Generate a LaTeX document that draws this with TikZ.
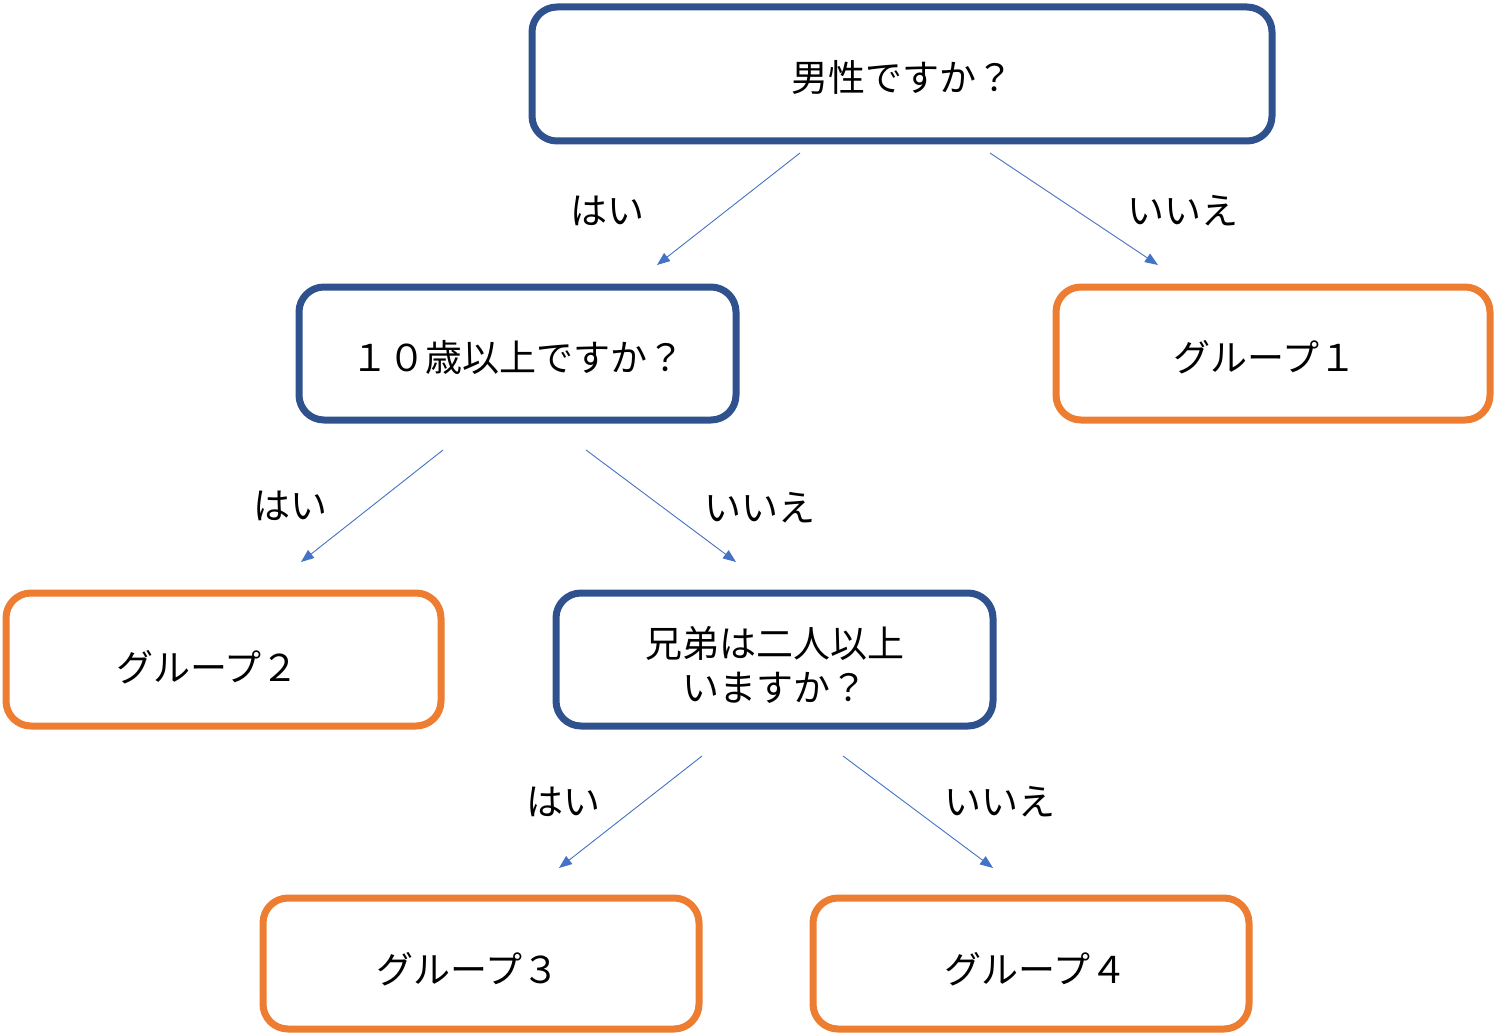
\documentclass[tikz,border=0pt]{standalone}
\usepackage{fontspec}
\setmainfont{Noto Sans CJK JP}
\usetikzlibrary{arrows.meta,calc}
\definecolor{qblue}{HTML}{2F528F}
\definecolor{gorange}{HTML}{ED7D31}
\definecolor{ablue}{HTML}{4472C4}
\newcommand{\dn}[2]{\raisebox{-#1pt}[\height][\depth]{#2}}
\begin{document}
\begin{tikzpicture}[x=1pt,y=-1pt,
  box/.style={rectangle,rounded corners=25pt,line width=7pt,inner sep=0pt,outer sep=0pt,
    align=center,font=\fontsize{37}{44}\selectfont,fill=white},
  qbox/.style={box,draw=qblue},
  gbox/.style={box,draw=gorange},
  conn/.style={draw=ablue,line width=0.9pt,-{Triangle[length=13pt,width=10pt]}},
  lab/.style={font=\fontsize{37}{44}\selectfont,inner sep=0pt}]
\useasboundingbox (0,0) rectangle (1495,1035);
\node[qbox,minimum width=740pt,minimum height=134pt] (q1) at (902,74) {\dn{3}{男性ですか？}};
\node[qbox,minimum width=437pt,minimum height=133pt] (q2) at (517.5,353.5) {\dn{4}{１０歳以上ですか？}};
\node[gbox,minimum width=434pt,minimum height=133pt] (g1) at (1273,353.5) {\dn{4}{グループ１\kern16pt}};
\node[gbox,minimum width=435pt,minimum height=133pt] (g2) at (223.5,659.5) {\dn{8}{グループ２\kern32pt}};
\node[qbox,minimum width=437pt,minimum height=133pt] (q3) at (774.5,659.5)
  {\dn{11}{\begin{tabular}{@{}c@{}}兄弟は二人以上\\いますか？\end{tabular}}};
\node[gbox,minimum width=436pt,minimum height=131pt] (g3) at (481,963.5) {\dn{6}{グループ３\kern26pt}};
\node[gbox,minimum width=436pt,minimum height=131pt] (g4) at (1031,963.5) {\dn{6}{\kern10ptグループ４}};
\draw[conn] ($(q1.center)+(-102,79)$) -- ($(q2.center)+(139.5,-88.5)$);
\draw[conn] ($(q1.center)+(88,79)$) -- ($(g1.center)+(-115,-88.5)$);
\draw[conn] ($(q2.center)+(-74.5,96.5)$) -- ($(g2.center)+(77.5,-97.5)$);
\draw[conn] ($(q2.center)+(68.5,96.5)$) -- ($(q3.center)+(-38.5,-97.5)$);
\draw[conn] ($(q3.center)+(-72.5,96.5)$) -- ($(g3.center)+(78,-95.5)$);
\draw[conn] ($(q3.center)+(68.5,96.5)$) -- ($(g4.center)+(-38,-95.5)$);
\node[lab] (l1) at (607,211) {はい};
\node[lab] (l2) at (1183,211) {いいえ};
\node[lab] (l3) at (290,506) {はい};
\node[lab] (l4) at (760,508) {いいえ};
\node[lab] (l5) at (563,802) {はい};
\node[lab] (l6) at (1000,802) {いいえ};
\end{tikzpicture}
\end{document}
